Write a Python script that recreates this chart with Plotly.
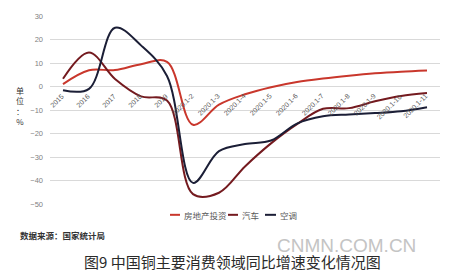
import plotly.graph_objects as go

categories = ["2015", "2016", "2017", "2018", "2019", "2020.1-2", "2020.1-3", "2020.1-4",
              "2020.1-5", "2020.1-6", "2020.1-7", "2020.1-8", "2020.1-9", "2020.1-10", "2020.1-11"]
real_estate = [1.0, 6.9, 7.0, 9.5, 10.5, -16.3, -7.7, -3.3, -0.3, 1.9, 3.4, 4.6, 5.6, 6.3, 6.8]
auto = [3.3, 14.5, 3.2, -4.2, -6.0, -45.8, -45.2, -34.0, -24.2, -16.0, -9.5, -9.2, -6.3, -4.0, -2.8]
aircon = [-1.6, -1.0, 25.0, 17.5, 4.5, -41.0, -27.5, -24.5, -23.0, -15.8, -12.7, -11.9, -11.3, -10.5, -8.8]
series_names = ["房地产投资", "汽车", "空调"]
series_colors = ["#c9372c", "#741a1f", "#1b1e36"]
y_ticks = [30, 20, 10, 0, -10, -20, -30, -40, -50]

W, H = 462, 276
ML, MR, MT, MB = 50, 22, 13, 72


def px_to_paper(xp, yp):
    return (xp - ML) / (W - ML - MR), 1 - (yp - MT) / (H - MT - MB)


fig = go.Figure()
for name, vals, col in zip(series_names, [real_estate, auto, aircon], series_colors):
    fig.add_trace(go.Scatter(x=categories, y=vals, name=name, mode="lines",
                             line=dict(color=col, width=2, shape="spline", smoothing=1.0),
                             showlegend=False))

annotations = []
# category labels sitting on the zero line (placed by category index)
for i, c in enumerate(categories):
    annotations.append(dict(x=i, y=0, xref="x", yref="y", text=c, showarrow=False,
                            textangle=-45, xanchor="right", yanchor="top",
                            xshift=5, yshift=-3,
                            font=dict(size=7, color="#595959", family="Liberation Sans")))

# unit label
ux, uy = px_to_paper(20, 104)
annotations.append(dict(x=ux, y=uy, xref="paper", yref="paper", text="单<br>位<br>：<br>%",
                        showarrow=False, xanchor="center", yanchor="middle",
                        font=dict(size=8, color="#333333", family="Noto Sans CJK SC")))

# custom legend
leg_y_px = 215
leg_items = [(170, 180, 182), (228, 238, 240), (265, 276, 278)]
shapes = []
for (x0, x1, xt), name, col in zip(leg_items, series_names, series_colors):
    px0, py = px_to_paper(x0, leg_y_px)
    px1, _ = px_to_paper(x1, leg_y_px)
    pxt, _ = px_to_paper(xt, leg_y_px)
    shapes.append(dict(type="line", xref="paper", yref="paper",
                       x0=px0, x1=px1, y0=py, y1=py,
                       line=dict(color=col, width=2)))
    annotations.append(dict(x=pxt, y=py, xref="paper", yref="paper", text=name, showarrow=False,
                            xanchor="left", yanchor="middle",
                            font=dict(size=8.5, color="#595959", family="Noto Sans CJK SC")))

sx, sy = px_to_paper(18, 236)
annotations.append(dict(x=sx, y=sy, xref="paper", yref="paper", text="<b>数据来源：国家统计局</b>",
                        showarrow=False, xanchor="left", yanchor="middle",
                        font=dict(size=8.5, color="#333333", family="Noto Sans CJK SC")))

wx, wy = px_to_paper(346, 246)
annotations.append(dict(x=wx, y=wy, xref="paper", yref="paper", text="CNMN.COM.CN",
                        showarrow=False, xanchor="center", yanchor="middle",
                        font=dict(size=19, color="#c4c4c4", family="Liberation Sans")))

cx, cy = px_to_paper(232, 262)
annotations.append(dict(x=cx, y=cy, xref="paper", yref="paper",
                        text="图9 中国铜主要消费领域同比增速变化情况图",
                        showarrow=False, xanchor="center", yanchor="middle",
                        font=dict(size=15, color="#2a2a2a", family="Noto Sans CJK SC")))

fig.update_layout(
    width=W, height=H,
    margin=dict(l=ML, r=MR, t=MT, b=MB, pad=0),
    paper_bgcolor="white", plot_bgcolor="white",
    xaxis=dict(type="category", range=[-0.5, 14.5], showticklabels=False, showgrid=False,
               zeroline=False, showline=False, ticks=""),
    yaxis=dict(range=[-50, 30], tickvals=y_ticks, showgrid=True, gridcolor="#d9d9d9", gridwidth=1,
               zeroline=False, showline=False, ticks="", ticklabelstandoff=6,
               tickfont=dict(size=7.5, color="#7f7f7f", family="Liberation Sans")),
    annotations=annotations,
    shapes=shapes,
)

fig.write_html("out.html")
